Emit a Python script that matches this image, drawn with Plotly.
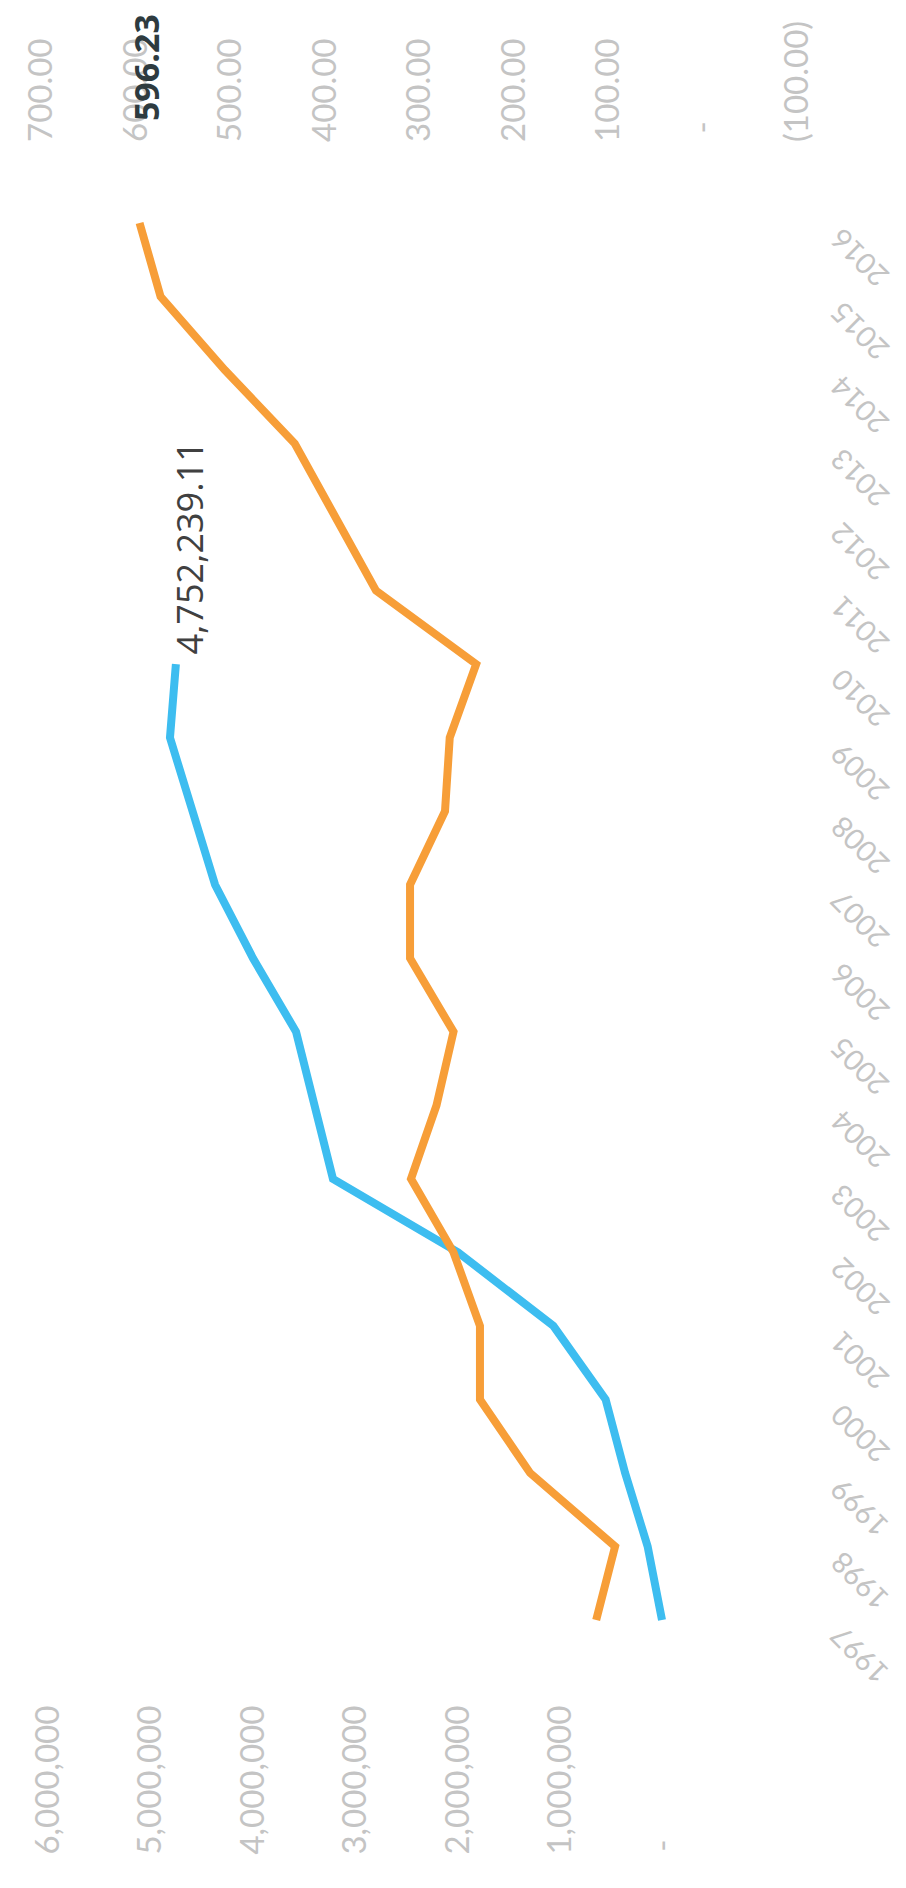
import plotly.graph_objects as go

# ---- data ----
years = [1997, 1998, 1999, 2000, 2001, 2002, 2003, 2004, 2005, 2006,
         2007, 2008, 2009, 2010, 2011, 2012, 2013, 2014, 2015, 2016]

blue_years = [1997, 1998, 1999, 2000, 2001, 2002, 2003, 2004, 2005, 2006,
              2007, 2008, 2009, 2010]
blue_values = [10000, 150000, 370000, 560000, 1070000, 2000000, 3220000,
               3410000, 3580000, 4000000, 4370000, 4590000, 4810000, 4752239.11]

orange_values = [113, 93, 183, 236, 236, 264, 309, 282, 264, 310,
                 310, 273, 268, 240, 346, 390, 432, 506, 574, 596.23]

blue_tickvals = [0, 1000000, 2000000, 3000000, 4000000, 5000000, 6000000]
blue_ticktext = ["-" + "\u2007" * 7, "1,000,000", "2,000,000", "3,000,000",
                 "4,000,000", "5,000,000", "6,000,000"]
orange_tickvals = [-100, 0, 100, 200, 300, 400, 500, 600, 700]
orange_ticktext = ["(100.00)", "\u00a0-", "100.00", "200.00", "300.00",
                   "400.00", "500.00", "600.00", "700.00"]

BLUE = "#3DBDF0"
ORANGE = "#F79E38"
TICK_COLOR = "#C4C4C4"
TICK_FONT = dict(family="Lato, Open Sans, sans-serif", size=33, color=TICK_COLOR)
YEAR_FONT = dict(family="Lato, Open Sans, sans-serif", size=29, color=TICK_COLOR)

fig = go.Figure()
fig.add_trace(go.Scatter(x=blue_values, y=blue_years, mode="lines",
                         line=dict(color=BLUE, width=8), xaxis="x", yaxis="y",
                         showlegend=False, hoverinfo="skip"))
fig.add_trace(go.Scatter(x=orange_values, y=years, mode="lines",
                         line=dict(color=ORANGE, width=8), xaxis="x2", yaxis="y",
                         showlegend=False, hoverinfo="skip"))

annotations = []
# year labels (rotated, right side)
for yr in years:
    annotations.append(dict(
        text=str(yr), x=1.0, xref="paper", y=yr, yref="y",
        xanchor="left", yanchor="top", textangle=-135, showarrow=False,
        xshift=-18, yshift=4, font=YEAR_FONT))

# data labels on last points
annotations.append(dict(
    text=f"{blue_values[-1]:,.2f}", x=blue_values[-1], xref="x",
    y=blue_years[-1], yref="y", textangle=-90, showarrow=False,
    xanchor="center", yanchor="bottom", xshift=14, yshift=8,
    font=dict(family="Open Sans, sans-serif", size=36, color="#404040")))
annotations.append(dict(
    text=f"<b>{orange_values[-1]:,.2f}</b>", x=orange_values[-1], xref="x2",
    y=years[-1], yref="y", textangle=-90, showarrow=False,
    xanchor="center", yanchor="bottom", xshift=6, yshift=100,
    font=dict(family="Open Sans, sans-serif", size=34, color="#2E3B40")))

fig.update_layout(
    width=906, height=1888,
    margin=dict(l=20, r=76, t=145, b=208),
    paper_bgcolor="white", plot_bgcolor="white",
    showlegend=False,
    xaxis=dict(range=[6195000, -1707000], side="bottom",
               tickvals=blue_tickvals, ticktext=blue_ticktext,
               tickangle=-90, tickfont=TICK_FONT, ticklabelstandoff=10,
               showgrid=False, zeroline=False, showline=False, ticks=""),
    xaxis2=dict(range=[714.3, -142.9], side="top", overlaying="x",
                tickvals=orange_tickvals, ticktext=orange_ticktext,
                tickangle=-90, tickfont=TICK_FONT, ticklabelstandoff=10,
                showgrid=False, zeroline=False, showline=False, ticks=""),
    yaxis=dict(range=[1996.075, 2016.952], showticklabels=False,
               showgrid=False, zeroline=False, showline=False, ticks=""),
    annotations=annotations,
)

fig.write_html("out.html")
